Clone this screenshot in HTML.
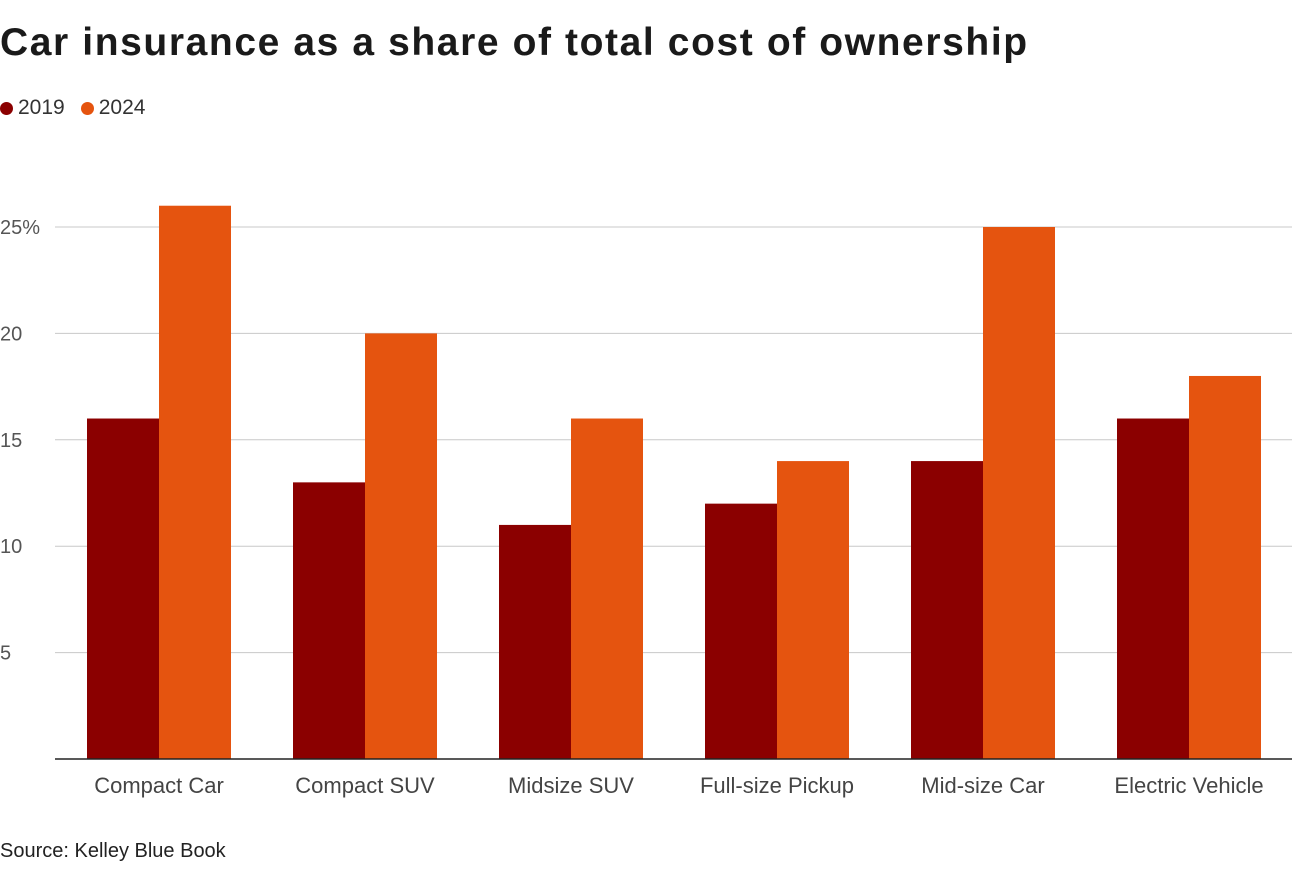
<!DOCTYPE html>
<html><head><meta charset="utf-8">
<style>
body{margin:0;width:1292px;height:870px;background:#fff;font-family:"Liberation Sans",sans-serif;overflow:hidden;position:relative}
#title{position:absolute;left:0;top:21px;font-size:39px;font-weight:bold;color:#1a1a1a;letter-spacing:1.6px;margin:0;white-space:nowrap}
#legend{position:absolute;left:0;top:96px;font-size:21px;color:#333;display:flex;gap:16px}
.li{display:flex;align-items:center;gap:5px}
.dot{width:13px;height:13px;border-radius:50%;display:inline-block}
#source{position:absolute;left:0;top:840px;font-size:20px;color:#222}
svg{position:absolute;left:0;top:0}
</style></head><body>
<h1 id="title">Car insurance as a share of total cost of ownership</h1>
<div id="legend">
<span class="li"><span class="dot" style="background:#8b0000"></span>2019</span>
<span class="li"><span class="dot" style="background:#e5540f"></span>2024</span>
</div>
<svg id="chart" width="1292" height="870"></svg>
<div id="source">Source: Kelley Blue Book</div>
<script>
const categories=["Compact Car","Compact SUV","Midsize SUV","Full-size Pickup","Mid-size Car","Electric Vehicle"];
const values2019=[16,13,11,12,14,16];
const values2024=[26,20,16,14,25,18];
const ticks=[5,10,15,20,25];
const tickLabels=["5","10","15","20","25%"];
const NS="http://www.w3.org/2000/svg";
const svg=document.getElementById('chart');
const x0=56,x1=1292,y0=759,yTop=227,vTop=25;
const y=v=>y0-(y0-yTop)*v/vTop;
const band=(x1-x0)/categories.length;
const bw=72;
function mk(t,a){const e=document.createElementNS(NS,t);for(const k in a)e.setAttribute(k,a[k]);svg.appendChild(e);return e;}
ticks.forEach((t,i)=>{
 const g=mk('line',{x1:55,x2:1292,y1:y(t),y2:y(t),stroke:'#c8c8c8','stroke-width':1});
 
 
 const l=mk('text',{x:0,y:y(t)+7,'font-size':20,fill:'#555','font-family':'Liberation Sans, sans-serif'});
 l.textContent=tickLabels[i];
 
 
});
categories.forEach((c,i)=>{
 const cx=x0+band*(i+0.5);
 const a=mk('rect',{x:cx-bw,y:y(values2019[i]),width:bw,height:y0-y(values2019[i]),fill:'#8b0000'});
 
 
 const b=mk('rect',{x:cx,y:y(values2024[i]),width:bw,height:y0-y(values2024[i]),fill:'#e5540f'});
 
 
 const t=mk('text',{x:cx,y:793,'text-anchor':'middle','font-size':22,fill:'#444','font-family':'Liberation Sans, sans-serif'});
 t.textContent=c;
 
 
});
const base=mk('line',{x1:55,x2:1292,y1:y0,y2:y0,stroke:'#222','stroke-width':1.5});


</script>
</body></html>
